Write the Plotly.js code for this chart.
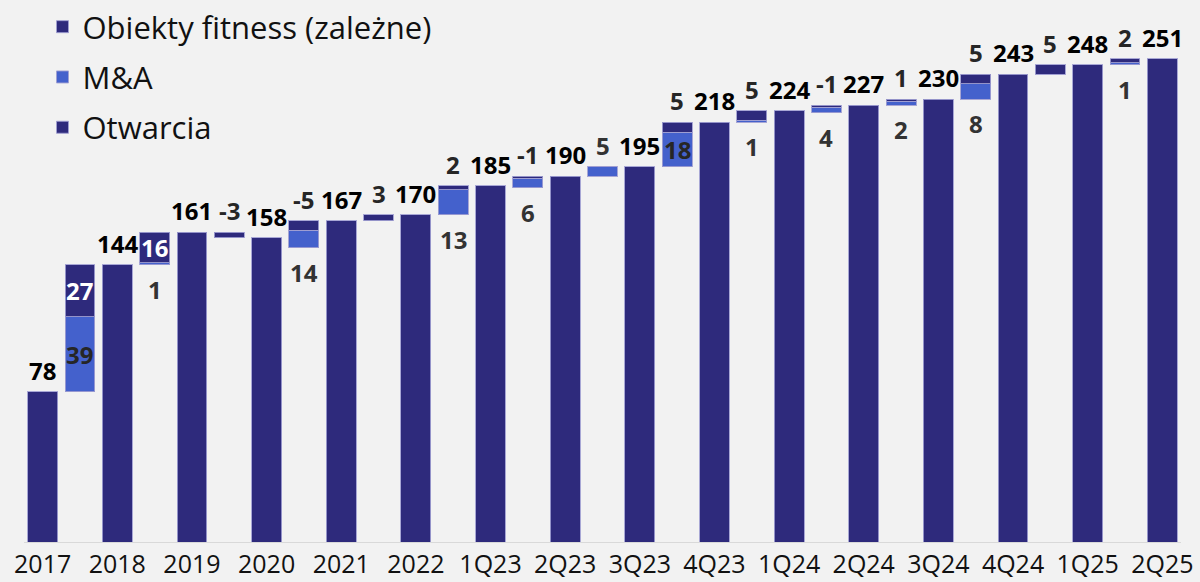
<!DOCTYPE html>
<html>
<head>
<meta charset="utf-8">
<script src="https://cdn.plot.ly/plotly-3.0.1.min.js"></script>
<style>
  html, body { margin: 0; padding: 0; background: #F2F2F2; }
  #chart { width: 1200px; height: 582px; }
</style>
</head>
<body>
<div id="chart"></div>
<script>
// ---- Data ----
const labels = ['2017','2018','2019','2020','2021','2022','1Q23','2Q23','3Q23','4Q23','1Q24','2Q24','3Q24','4Q24','1Q25','2Q25'];
const totals = [78, 144, 161, 158, 167, 170, 185, 190, 195, 218, 224, 227, 230, 243, 248, 251];
// changes between consecutive periods
const mna      = [39, 1, 0, 14, 0, 13, 6, 5, 18, 1, 4, 2, 8, 0, 1];
const otwarcia = [27, 16, -3, -5, 3, 2, -1, 0, 5, 5, -1, 1, 5, 5, 2];

const legendNames = ['Obiekty fitness (zależne)', 'M&A', 'Otwarcia'];

// ---- Styling ----
const DARK = '#2E2A7C';
const BLUE = '#4461CC';
const EDGE = 'rgba(160,158,210,0.9)';
const FONT = 'Open Sans, Noto Sans, sans-serif';

// ---- Derived geometry (computed from data) ----
const xTot = labels.map((_, i) => 2 * i);
const xBr = mna.map((_, i) => 2 * i + 1);
const prevTot = totals.slice(0, -1);
const nextTot = totals.slice(1);
const brBase = otwarcia.map((o, i) => prevTot[i] + Math.min(o, 0));
const brTop = prevTot.map((p, i) => Math.max(p, nextTot[i]));
const darkH = otwarcia.map(o => Math.abs(o));
const blueH = brTop.map((t, i) => t - brBase[i] - darkH[i]);

const traces = [
  { type: 'bar', x: xBr, y: brBase, marker: { color: 'rgba(0,0,0,0)' }, showlegend: false, hoverinfo: 'skip' },
  { type: 'bar', x: xTot, y: totals, name: legendNames[0], legendgroup: 'a',
    marker: { color: DARK, line: { color: EDGE, width: 1 } }, hoverinfo: 'x+y' },
  { type: 'bar', x: xBr, y: blueH, name: legendNames[1], legendgroup: 'b',
    marker: { color: BLUE, line: { color: EDGE, width: 1 } }, customdata: mna, hovertemplate: '%{customdata}<extra></extra>' },
  { type: 'bar', x: xBr, y: darkH, name: legendNames[2], legendgroup: 'c',
    marker: { color: DARK, line: { color: EDGE, width: 1 } }, customdata: otwarcia, hovertemplate: '%{customdata}<extra></extra>' }
];

// ---- Labels ----
const ann = [];
const lblFont = (c) => ({ family: FONT, size: 24, color: c, weight: 700 });
const ABOVE = 3, BELOW = -6;
totals.forEach((v, i) => {
  ann.push({ x: xTot[i], y: v, text: String(v), showarrow: false, yanchor: 'bottom', yshift: ABOVE, font: lblFont('#000000') });
});
otwarcia.forEach((o, i) => {
  if (o === 0) return;
  if (Math.abs(o) >= 15) {
    ann.push({ x: xBr[i], y: brTop[i] - darkH[i] / 2, text: String(o), showarrow: false, yanchor: 'middle', font: lblFont('#FFFFFF') });
  } else {
    ann.push({ x: xBr[i], y: brTop[i], text: String(o), showarrow: false, yanchor: 'bottom', yshift: ABOVE, font: lblFont('#262626') });
  }
});
mna.forEach((m, i) => {
  if (m === 0) return;
  if (m >= 15) {
    ann.push({ x: xBr[i], y: brBase[i] + blueH[i] / 2, text: String(m), showarrow: false, yanchor: 'middle', font: lblFont('#262626') });
  } else if (otwarcia[i] === 0) {
    ann.push({ x: xBr[i], y: brTop[i], text: String(m), showarrow: false, yanchor: 'bottom', yshift: ABOVE, font: lblFont('#333333') });
  } else {
    ann.push({ x: xBr[i], y: brBase[i], text: String(m), showarrow: false, yanchor: 'top', yshift: BELOW, font: lblFont('#333333') });
  }
});

const layout = {
  width: 1200, height: 582,
  paper_bgcolor: '#F2F2F2', plot_bgcolor: '#F2F2F2',
  margin: { l: 24, r: 19, t: 0, b: 40, autoexpand: false },
  barmode: 'stack', bargap: 0.2,
  font: { family: FONT, color: '#111' },
  xaxis: {
    range: [-0.5, 30.5], tickvals: xTot, ticktext: labels, tickangle: 0, automargin: false,
    showgrid: false, zeroline: false, showline: true, linecolor: '#D9D9D9', linewidth: 1,
    ticks: '', ticklabelstandoff: 0, tickfont: { family: FONT, size: 25, color: '#111' }, fixedrange: true
  },
  yaxis: { range: [0, 281.6], visible: false, fixedrange: true },
  showlegend: true,
  legend: {
    x: 0.016, y: 1.0, xanchor: 'left', yanchor: 'top',
    traceorder: 'grouped', tracegroupgap: 7, bgcolor: 'rgba(0,0,0,0)',
    font: { family: FONT, size: 31, color: '#111' }
  },
  annotations: ann
};

Plotly.newPlot('chart', traces, layout, { displayModeBar: false, staticPlot: true });
</script>
</body>
</html>
